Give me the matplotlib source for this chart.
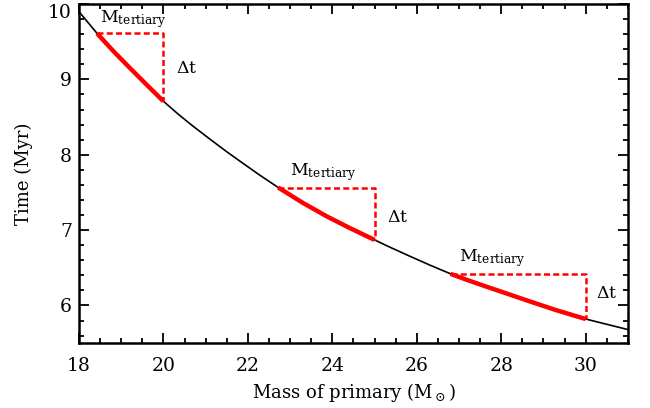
import numpy as np
import matplotlib.pyplot as plt
from matplotlib.ticker import MultipleLocator

# Values
mass = [18.0, 18.43, 18.8, 19.2, 19.6, 20.0, 20.35, 20.7, 21.1, 21.5,
        21.9, 22.28, 22.72, 23.3, 23.86, 24.4, 25.0, 25.4, 25.83, 26.3,
        26.8, 27.15, 27.49, 28.1, 28.67, 29.3, 30.0, 30.5, 31.0]
time = [9.90, 9.61, 9.384, 9.155, 8.931, 8.71, 8.539, 8.38, 8.208, 8.04,
        7.88, 7.73, 7.565, 7.362, 7.185, 7.031, 6.87, 6.764, 6.655, 6.538,
        6.42, 6.347, 6.28, 6.164, 6.055, 5.938, 5.82, 5.75, 5.68]

seg_start = [18.43, 22.72, 26.8]
seg_end = [20.0, 25.0, 30.0]

mlabel_pos = [(18.5, 9.66), (23.0, 7.62), (27.0, 6.48)]
dt_pos = [(20.3, 9.15), (25.3, 7.17), (30.25, 6.16)]

yticks = [6, 7, 8, 9, 10]

plt.rcParams['font.family'] = 'DejaVu Serif'
plt.rcParams['mathtext.fontset'] = 'dejavuserif'

mass = np.array(mass)
time = np.array(time)

fig = plt.figure(figsize=(6.5, 4.08), dpi=100)
ax = fig.add_axes([0.1215, 0.159, 0.8445, 0.831])

ax.plot(mass, time, color='black', lw=1.2, zorder=2)

for m0, m1 in zip(seg_start, seg_end):
    sel = (mass >= m0) & (mass <= m1)
    ax.plot(mass[sel], time[sel], color='red', lw=3.2, zorder=3,
            solid_capstyle='butt')
    t0 = time[mass == m0][0]
    t1 = time[mass == m1][0]
    ax.plot([m0, m1, m1], [t0, t0, t1], color='red', lw=1.8,
            dashes=(2.4, 1.3), zorder=3)

for x, y in mlabel_pos:
    ax.text(x, y, r'M$_{\rm tertiary}$', fontsize=12.5, ha='left', va='bottom')
for x, y in dt_pos:
    ax.text(x, y, r'$\Delta$t', fontsize=12.5, ha='left', va='center')

ax.set_xlim(18, 31)
ax.set_ylim(5.5, 10)
ax.xaxis.set_major_locator(MultipleLocator(2))
ax.xaxis.set_minor_locator(MultipleLocator(0.5))
ax.set_yticks(yticks)
ax.set_yticklabels([str(v) for v in yticks])
ax.yaxis.set_minor_locator(MultipleLocator(0.2))
ax.tick_params(which='both', direction='in', top=True, right=True,
               width=1.3, labelsize=13.5)
ax.tick_params(which='major', length=7.2)
ax.tick_params(which='minor', length=3.6)
ax.tick_params(axis='x', pad=10)
ax.tick_params(axis='y', pad=5)
# top label sits below the frame edge, as in the original
ax.get_yticklabels()[-1].set_va('top')
for s in ax.spines.values():
    s.set_linewidth(1.8)

ax.set_xlabel(r'Mass of primary (M$_\odot$)', fontsize=13, labelpad=4)
ax.set_ylabel('Time (Myr)', fontsize=13, labelpad=11)

fig.savefig('out.png', dpi=100)
